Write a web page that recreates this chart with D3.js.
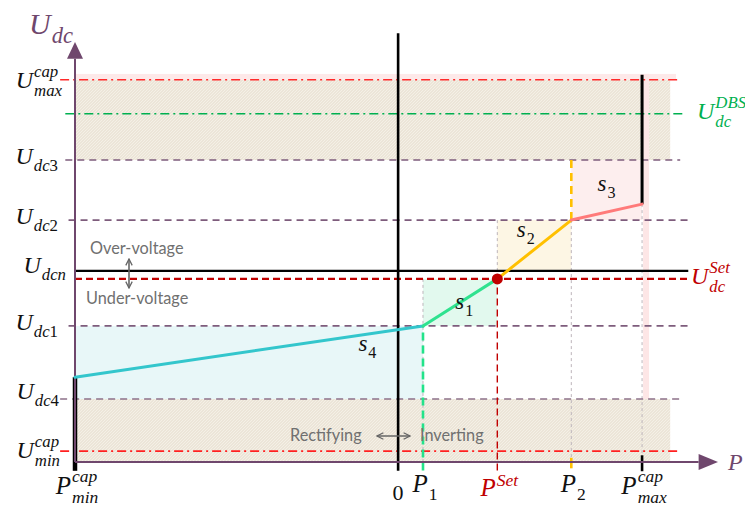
<!DOCTYPE html>
<html>
<head>
<meta charset="utf-8">
<script src="https://cdn.jsdelivr.net/npm/d3@7"></script>
<style>
  html, body { margin: 0; padding: 0; background: #fff; }
  svg { display: block; }
</style>
</head>
<body>
<svg id="chart" width="745" height="520"></svg>
<script>
// Power values on the P axis (abstract units, 0 = rectifying/inverting boundary)
const pNames  = ["Pmin", "P0", "P1", "Pset", "P2", "Pmax"];
const pValues = [-100, 0, 7.7, 30.7, 53.6, 75.5];

// DC voltage levels (abstract units)
const uNames  = ["Umin", "Udc4", "Udc1", "Uset", "Udcn", "Udc2", "Udc3", "Udbs", "Umax"];
const uValues = [2.6, 15.0, 32.4, 43.6, 45.5, 57.6, 71.9, 82.9, 91.0];

// Droop characteristic breakpoints: Pmin -> P1 -> Pset -> P2 -> Pmax
const curveP = [-100, 7.7, 30.7, 53.6, 75.5];
const curveU = [20.2, 32.4, 43.6, 57.6, 61.4];
const segNames = ["s4", "s1", "s2", "s3"];

const P = Object.fromEntries(pNames.map((n, i) => [n, pValues[i]]));
const U = Object.fromEntries(uNames.map((n, i) => [n, uValues[i]]));

const svg = d3.select("#chart");
const x = d3.scaleLinear().domain([-100, 99]).range([75, 718]);
const y = d3.scaleLinear().domain([0, 100]).range([462, 42]);

const MATH = "'Liberation Serif', 'DejaVu Serif', serif";
const SANS = "Lato, 'Open Sans', 'Noto Sans', sans-serif";
const purple = "#6f476d";

// hatch pattern for the capability bands
const defs = svg.append("defs");
const pat = defs.append("pattern").attr("id", "hatch").attr("patternUnits", "userSpaceOnUse")
  .attr("width", 3).attr("height", 3);
pat.append("rect").attr("width", 3).attr("height", 3).attr("fill", "#ece5d8");
pat.append("path").attr("d", "M0,3 L3,0").attr("stroke", "#f6f2ea").attr("stroke-width", 0.8);

defs.append("marker").attr("id", "ah").attr("viewBox", "0 0 10 10").attr("refX", 9).attr("refY", 5)
  .attr("markerWidth", 5).attr("markerHeight", 5).attr("orient", "auto-start-reverse")
  .append("path").attr("d", "M1,1 L9,5 L1,9").attr("fill", "none").attr("stroke", "#666").attr("stroke-width", 1.6);

const gBg = svg.append("g");
// top pink strip and bands
gBg.append("rect").attr("x", x(P.Pmin)).attr("y", y(92.4)).attr("width", x(86) - x(P.Pmin))
  .attr("height", y(U.Umax) - y(92.4)).attr("fill", "#fde9e9");
gBg.append("rect").attr("x", x(P.Pmin)).attr("y", y(U.Umax)).attr("width", x(84.2) - x(P.Pmin))
  .attr("height", y(U.Udc3) - y(U.Umax)).attr("fill", "url(#hatch)");
gBg.append("rect").attr("x", x(P.Pmin)).attr("y", y(U.Udc4)).attr("width", x(84.2) - x(P.Pmin))
  .attr("height", y(0) - y(U.Udc4)).attr("fill", "url(#hatch)");
// vertical pink strip at Pmax
gBg.append("rect").attr("x", x(P.Pmax) + 1).attr("y", y(92.4)).attr("width", 6)
  .attr("height", y(U.Udc4) - y(92.4)).attr("fill", "#fde6e6");

// slope areas
const areas = [
  { p0: P.Pmin, p1: P.P1,   u0: U.Udc4, u1: U.Udc1, c: "#e8f7f8" },
  { p0: P.P1,   p1: P.Pset, u0: U.Udc1, u1: U.Uset, c: "#e2f9ee" },
  { p0: P.Pset, p1: P.P2,   u0: U.Udcn, u1: U.Udc2, c: "#fdf6e4" },
  { p0: P.P2,   p1: P.Pmax, u0: U.Udc2, u1: U.Udc3, c: "#fdeeee" }
];
svg.append("g").selectAll("rect").data(areas).join("rect")
  .attr("x", d => x(d.p0)).attr("width", d => x(d.p1) - x(d.p0))
  .attr("y", d => y(d.u1)).attr("height", d => y(d.u0) - y(d.u1))
  .attr("fill", d => d.c);

// thin grey guides
const guides = [
  [P.P1, U.Uset, 0], [P.Pset, U.Udc2, U.Uset], [P.P2, U.Udc2, 0], [P.Pmax, 61.4, 0]
];
svg.append("g").selectAll("line").data(guides).join("line")
  .attr("x1", d => x(d[0])).attr("x2", d => x(d[0]))
  .attr("y1", d => y(d[1])).attr("y2", d => y(d[2]))
  .attr("stroke", "#bdb5bb").attr("stroke-width", 1).attr("stroke-dasharray", "3,3");

// horizontal levels
const hLines = [
  { u: U.Umax, a: -104.6, b: 87.3, c: "#ff2a2a", w: 1.6, d: "9,4,2,4" },
  { u: U.Udbs, a: -103,   b: 89,   c: "#00b050", w: 1.6, d: "9,4,2,4" },
  { u: U.Udc3, a: -103,   b: 87.3, c: "#7e5c7c", w: 1.6, d: "7,5" },
  { u: U.Udc2, a: -102,   b: 89.8, c: "#7e5c7c", w: 1.6, d: "7,5" },
  { u: U.Udc1, a: -102,   b: 89.8, c: "#7e5c7c", w: 1.6, d: "7,5" },
  { u: U.Udc4, a: -104.6, b: 87.3, c: "#8d7189", w: 1.6, d: "7,5" },
  { u: U.Umin, a: -104.6, b: 87.3, c: "#ff2020", w: 1.6, d: "9,4,2,4" },
  { u: U.Udcn, a: -100,   b: 89.8, c: "#000",    w: 2.2, d: null },
  { u: U.Uset, a: -100,   b: 89.8, c: "#c00000", w: 2.2, d: "7,4" }
];
svg.append("g").selectAll("line").data(hLines).join("line")
  .attr("x1", d => x(d.a)).attr("x2", d => x(d.b))
  .attr("y1", d => y(d.u)).attr("y2", d => y(d.u))
  .attr("stroke", d => d.c).attr("stroke-width", d => d.w)
  .attr("stroke-dasharray", d => d.d);

// vertical markers
const vLines = [
  { p: P.P0,   u0: -2.1, u1: 102.1, c: "#000", w: 2.6, d: null },
  { p: P.P1,   u0: -2, u1: U.Udc1, c: "#22e38a", w: 2.6, d: "8,5" },
  { p: P.Pset, u0: -2, u1: U.Uset, c: "#c00000", w: 1.4, d: "7,4" },
  { p: P.P2,   u0: U.Udc2, u1: U.Udc3, c: "#ffc000", w: 2.6, d: "8,5" },
  { p: P.P2,   u0: -1.5, u1: 1, c: "#ffc000", w: 2.6, d: null },
  { p: P.Pmax, u0: -2.2, u1: 1.6, c: "#000", w: 2.6, d: null },
  { p: P.Pmax, u0: 61.4, u1: 92.2, c: "#000", w: 3, d: null },
  { p: P.Pmin, u0: -2.1, u1: 20.2, c: "#000", w: 4.5, d: null }
];
svg.append("g").selectAll("line").data(vLines).join("line")
  .attr("x1", d => x(d.p)).attr("x2", d => x(d.p))
  .attr("y1", d => y(d.u0)).attr("y2", d => y(d.u1))
  .attr("stroke", d => d.c).attr("stroke-width", d => d.w)
  .attr("stroke-dasharray", d => d.d);

// axes
const gAx = svg.append("g");
gAx.append("line").attr("x1", x(-100)).attr("x2", x(-100)).attr("y1", y(0)).attr("y2", y(96))
  .attr("stroke", purple).attr("stroke-width", 2);
gAx.append("path").attr("d", `M${x(-100)},${y(100)} L${x(-100) - 8},${y(96)} L${x(-100) + 8},${y(96)} Z`).attr("fill", purple);
gAx.append("line").attr("x1", x(-100)).attr("x2", x(93)).attr("y1", y(0)).attr("y2", y(0))
  .attr("stroke", purple).attr("stroke-width", 2);
gAx.append("path").attr("d", `M${x(99)},${y(0)} L${x(93)},${y(0) - 8} L${x(93)},${y(0) + 8} Z`).attr("fill", purple);

// droop characteristic
const segColors = ["#33c6cc", "#2fe28f", "#ffc000", "#ff7a7a"];
const segs = segNames.map((n, i) => ({ n, p0: curveP[i], u0: curveU[i], p1: curveP[i + 1], u1: curveU[i + 1], c: segColors[i] }));
svg.append("g").selectAll("line").data(segs).join("line")
  .attr("x1", d => x(d.p0)).attr("y1", d => y(d.u0))
  .attr("x2", d => x(d.p1)).attr("y2", d => y(d.u1))
  .attr("stroke", d => d.c).attr("stroke-width", 3).attr("stroke-linecap", "round");
svg.append("circle").attr("cx", x(P.Pset)).attr("cy", y(U.Uset)).attr("r", 5.5).attr("fill", "#c00000");

// math-style text: letters italic, digits upright
function mathText(t, str) {
  str.split(/(\d+)/).filter(s => s.length).forEach(part => {
    t.append("tspan").style("font-style", /^\d+$/.test(part) ? "normal" : "italic").text(part);
  });
  return t;
}

// label helper: base letter with optional subscript/superscript stacked
function mathLabel(parent, o) {
  const size = o.size || 24;
  const g = parent.append("g").attr("fill", o.color || "#111").style("font-family", MATH);
  const t = mathText(g.append("text").attr("font-size", size), o.base);
  const w = t.node().getComputedTextLength();
  let w2 = 0;
  const ss = size * (o.ratio || 0.7);
  const stacked = o.sup && o.sub;
  if (o.sup) {
    const s = mathText(g.append("text").attr("x", w + 1).attr("y", -size * (stacked ? 0.47 : 0.42)).attr("font-size", ss), o.sup);
    w2 = Math.max(w2, s.node().getComputedTextLength());
  }
  if (o.sub) {
    const s = mathText(g.append("text").attr("x", w + 1).attr("y", size * (stacked ? 0.34 : 0.3)).attr("font-size", ss), o.sub);
    w2 = Math.max(w2, s.node().getComputedTextLength());
  }
  const total = w + 1 + w2;
  const dx = o.anchor === "end" ? -total : o.anchor === "start" ? 0 : -total / 2;
  g.attr("transform", `translate(${o.x + dx},${o.y})`);
  return g;
}

// left tick labels
const gL = svg.append("g");
const leftLabels = [
  { u: U.Umax, base: "U", sub: "max", sup: "cap", dy: 8, xr: 62 },
  { u: U.Udc3, base: "U", sub: "dc3", dy: 4, xr: 58 },
  { u: U.Udc2, base: "U", sub: "dc2", dy: 4, xr: 58 },
  { u: U.Udcn, base: "U", sub: "dcn", dy: 2, xr: 66 },
  { u: U.Udc1, base: "U", sub: "dc1", dy: 4, xr: 58 },
  { u: U.Udc4, base: "U", sub: "dc4", dy: 0, xr: 59 },
  { u: U.Umin, base: "U", sub: "min", sup: "cap", dy: 7, xr: 60 }
];
leftLabels.forEach(d => mathLabel(gL, { x: d.xr, y: y(d.u) + d.dy, base: d.base, sub: d.sub, sup: d.sup, anchor: "end" }));
mathLabel(gL, { x: 29, y: 34, base: "U", sub: "dc", anchor: "start", color: purple, size: 30, ratio: 0.75 });

// right labels
mathLabel(gL, { x: 697, y: 119, base: "U", sub: "dc", sup: "DBS", anchor: "start", color: "#00b050" });
mathLabel(gL, { x: 691, y: 284, base: "U", sub: "dc", sup: "Set", anchor: "start", color: "#c00000" });

// bottom labels
const bottom = [
  { p: P.Pmin, base: "P", sub: "min", sup: "cap", y: 494, c: "#111" },
  { p: P.P1, base: "P", sub: "1", y: 492, c: "#111" },
  { p: P.Pset, base: "P", sup: "Set", y: 496, c: "#c00000" },
  { p: P.P2, base: "P", sub: "2", y: 492, c: "#111" },
  { p: P.Pmax, base: "P", sub: "max", sup: "cap", y: 494, c: "#111" }
];
bottom.forEach(d => mathLabel(gL, { x: x(d.p) + 2, y: d.y, base: d.base, sub: d.sub, sup: d.sup, color: d.c, size: 25 }));
gL.append("text").attr("x", x(P.P0)).attr("y", 500).attr("text-anchor", "middle")
  .style("font-family", MATH).attr("font-size", 22).attr("fill", "#111").text("0");
mathLabel(gL, { x: 728, y: 470, base: "P", anchor: "start", color: purple });

// slope names
const segLabelPos = [
  { n: "s", i: "4", p: -9.5, u: 26.5 },
  { n: "s", i: "1", p: 20.5, u: 36.5 },
  { n: "s", i: "2", p: 39.5, u: 53.5 },
  { n: "s", i: "3", p: 64.5, u: 64.5 }
];
segLabelPos.forEach(d => mathLabel(gL, { x: x(d.p), y: y(d.u), base: d.n, sub: d.i, size: 23 }));

// region annotations
const gT = svg.append("g").style("font-family", SANS).attr("fill", "#707070").attr("font-size", 16.3);
gT.append("text").attr("x", 90).attr("y", 254).text("Over-voltage");
gT.append("text").attr("x", 86).attr("y", 304).text("Under-voltage");
gT.append("text").attr("x", 290).attr("y", 441).text("Rectifying");
gT.append("text").attr("x", 420).attr("y", 441).text("Inverting");
svg.append("line").attr("x1", 129).attr("x2", 129).attr("y1", 259).attr("y2", 288)
  .attr("stroke", "#666").attr("stroke-width", 1.6)
  .attr("marker-start", "url(#ah)").attr("marker-end", "url(#ah)");
svg.append("line").attr("x1", 377).attr("x2", 410).attr("y1", 436).attr("y2", 436)
  .attr("stroke", "#666").attr("stroke-width", 1.6)
  .attr("marker-start", "url(#ah)").attr("marker-end", "url(#ah)");
</script>
</body>
</html>
